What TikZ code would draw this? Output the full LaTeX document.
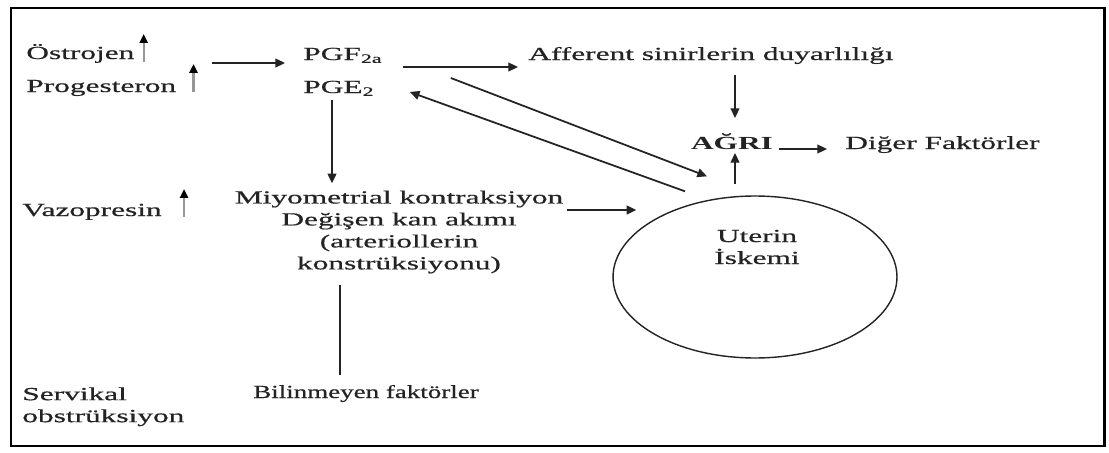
\documentclass[tikz,border=0pt]{standalone}
\usepackage{graphicx}
\usepackage{fontspec}
\setmainfont{Liberation Serif}[FakeStretch=1.7,UprightFeatures={FakeBold=0.6}]
\usetikzlibrary{arrows.meta,calc,shapes.geometric}
\definecolor{inkgrey}{RGB}{35,35,35}
\definecolor{shaftgrey}{RGB}{150,150,150}

\begin{document}
\begin{tikzpicture}[
    x=0.02cm,
    y=-0.02cm,
    every node/.style={
      font=\fontsize{10.5}{12.5}\selectfont,
      text=inkgrey,
      inner sep=0pt
    },
    flow/.style={
      inkgrey,
      line width=1pt,
      -{Triangle[length=5.5pt,width=5pt]}
    },
    link/.style={
      inkgrey,
      line width=1pt
    },
    rise/.style={
      shaftgrey,
      line width=1.3pt,
      -{Triangle[length=5pt,width=4.5pt,color=black]}
    }
]

\useasboundingbox (0,0) rectangle (1109,453);
\draw[black,line width=1.7pt] (11,8) rectangle (1104,446);

% Causes on the left.
\node[anchor=base west] (ostro) at (26,59) {Östrojen};
\node[anchor=base west] (proges) at (26,92) {Progesteron};
\node[anchor=base west] (vazo) at (22,216) {Vazopresin};
\node[anchor=north west,align=left] (servikal) at (22,387)
  {Servikal\\obstrüksiyon};

\foreach \n/\dx/\dy in {ostro/9/3, proges/17/0, vazo/22/1}
  \draw[rise] ($(\n.base east)+(\dx,\dy)$) -- ($(\n.base east)+(\dx,\dy-28)$);

% Prostaglandins and their effects.
\node[anchor=base west] (pgf) at (303,60) {PGF\textsubscript{2a}};
\node[anchor=base west] (pge) at (303,93) {PGE\textsubscript{2}};
\node[anchor=base west] (afferent) at (528,60)
  {Afferent sinirlerin duyarlılığı};
\node[align=center] (miyo) at (399,232)
  {Miyometrial kontraksiyon\\Değişen kan akımı\\(arteriollerin\\konstrüksiyonu)};
\node[anchor=base] (bilinmeyen) at (366,398)
  {\scalebox{0.86}[1]{Bilinmeyen faktörler}};

% Pain and the uterus.
\node[anchor=base,font=\fontsize{10.5}{12.5}\selectfont\bfseries] (agri) at (732,149) {AĞRI};
\node[anchor=base west] (diger) at (845,149) {Diğer Faktörler};
\node[
  draw=inkgrey,
  ellipse,
  line width=0.8pt,
  minimum width=5.68cm,
  minimum height=3.24cm
] (uterus) at (755,277) {};
\node[align=center] (iskemi) at (757,247) {Uterin\\İskemi};

\coordinate (hormones) at (212,63);
\draw[flow] (hormones) -- ($(pgf.base west)+(-18,3)$);
\draw[flow] ($(pgf.base east)+(20,7)$) -- ($(pgf.base east -| afferent.base west)+(-10,7)$);
\draw[flow] ($(afferent.base -| agri.base)+(3,15)$) -- ($(agri.base)+(3,-31)$);
\draw[flow] ($(agri.base east)+(6,0)$) -- ($(diger.base west)+(-18,0)$);
\draw[flow] ($(uterus.north -| agri.base)+(3,-11)$) -- ($(agri.base)+(3,4)$);
\draw[flow] ($(pgf.base east)+(68,18)$) -- ($(uterus.north)+(-48,-19)$);
\draw[flow] ($(uterus.north)+(-70,-4)$) -- ($(pge.base east)+(35,-1)$);
\draw[flow] ($(pge.base west)+(29,7)$) -- ($(pge.base west |- miyo.north)+(29,-7)$);
\draw[flow] ($(miyo.east)+(3,-22)$) -- ($(uterus.west)+(24,-67)$);
\draw[link] ($(miyo.south -| bilinmeyen.north)+(-26,11)$) -- ($(bilinmeyen.north)+(-26,-10)$);

\end{tikzpicture}
\end{document}
